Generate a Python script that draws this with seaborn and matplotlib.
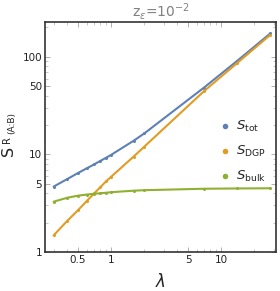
import numpy as np
import pandas as pd
import matplotlib
matplotlib.use("Agg")
import matplotlib.pyplot as plt
from matplotlib.lines import Line2D
from matplotlib.ticker import FixedLocator, FixedFormatter, LogLocator, NullFormatter
import seaborn as sns

# values
lam = [0.3, 0.4, 0.5, 0.6, 0.7, 0.8, 0.9, 1.0, 1.6, 2.0, 7.0, 14.0, 28.0]
s_tot = [4.68, 5.6, 6.45, 7.2, 7.9, 8.6, 9.25, 9.9, 13.8, 16.4, 48.5, 91.0, 174.0]
s_dgp = [1.48, 2.09, 2.68, 3.33, 3.98, 4.63, 5.3, 5.9, 9.5, 12.0, 44.6, 86.5, 168.0]
s_bulk = [3.28, 3.6, 3.78, 3.88, 3.95, 4.0, 4.05, 4.1, 4.25, 4.3, 4.45, 4.48, 4.5]

series = ['tot', 'DGP', 'bulk']
colors = ['#5E81B5', '#E19C24', '#8FB032']
xticks = [0.5, 1, 5, 10]
xticklabels = ['0.5', '1', '5', '10']
yticks = [1, 5, 10, 50, 100]
yticklabels = ['1', '5', '10', '50', '100']


def main():
    df = pd.DataFrame({
        'lam': lam * 3,
        'S': s_tot + s_dgp + s_bulk,
        'series': [s for s in series for _ in lam],
    })

    sns.set_style("ticks")
    plt.rcParams['font.family'] = ['DejaVu Sans']
    fig = plt.figure(figsize=(2.8, 2.91), dpi=100)
    ax = fig.add_axes([0.161, 0.134, 0.825, 0.7906])

    sns.lineplot(data=df, x='lam', y='S', hue='series', hue_order=series,
                 palette=colors, marker='o', markersize=2.2, markeredgewidth=0,
                 linewidth=1.5, legend=False, ax=ax)

    ax.set_xscale('log')
    ax.set_yscale('log')
    ax.set_xlim(0.251, 31.6)
    ax.set_ylim(1, 228)

    ax.xaxis.set_major_locator(FixedLocator(xticks))
    ax.xaxis.set_major_formatter(FixedFormatter(xticklabels))
    ax.yaxis.set_major_locator(FixedLocator(yticks))
    ax.yaxis.set_major_formatter(FixedFormatter(yticklabels))
    for axis in (ax.xaxis, ax.yaxis):
        axis.set_minor_locator(LogLocator(base=10, subs=np.arange(1, 10)))
        axis.set_minor_formatter(NullFormatter())

    ax.tick_params(which='both', direction='in', top=True, right=True,
                   color='#b0b0b0', labelsize=7.5, labelcolor='#222222', pad=2)
    ax.tick_params(which='major', length=3.5, width=0.7)
    ax.tick_params(which='minor', length=2, width=0.5)
    for sp in ax.spines.values():
        sp.set_color('#333333')
        sp.set_linewidth(1.2)

    ax.set_xlabel(r'$\lambda$', fontsize=12, labelpad=6)
    ax.set_ylabel('')
    # y label built from pieces so it fits the narrow left margin
    W, H = 280.0, 291.0
    fig.text(16 / W, 1 - 156 / H, 'S', fontsize=11.5, rotation=90,
             ha='right', va='bottom', color='#222222')
    fig.text(2 / W, 1 - 143 / H, 'R', fontsize=7, rotation=90,
             ha='left', va='bottom', color='#222222')
    fig.text(16 / W, 1 - 134 / H, '(A:B)', fontsize=6.5, rotation=90,
             ha='right', va='bottom', color='#222222')

    ax.set_title(r'z$_{\epsilon}$=10$^{-2}$', fontsize=10, color='#808080', pad=3)

    handles = [Line2D([], [], linestyle='none', marker='o', markersize=4,
                      markerfacecolor=c, markeredgewidth=0) for c in colors]
    labels = [r'$S_{\rm tot}$', r'$S_{\rm DGP}$', r'$S_{\rm bulk}$']
    ax.legend(handles, labels, loc='center left', bbox_to_anchor=(0.72, 0.435),
              frameon=False, fontsize=9.5, handlelength=1.0, handletextpad=0.4,
              labelspacing=0.75, borderpad=0)

    fig.savefig('out.png', dpi=100)


if __name__ == '__main__':
    main()
